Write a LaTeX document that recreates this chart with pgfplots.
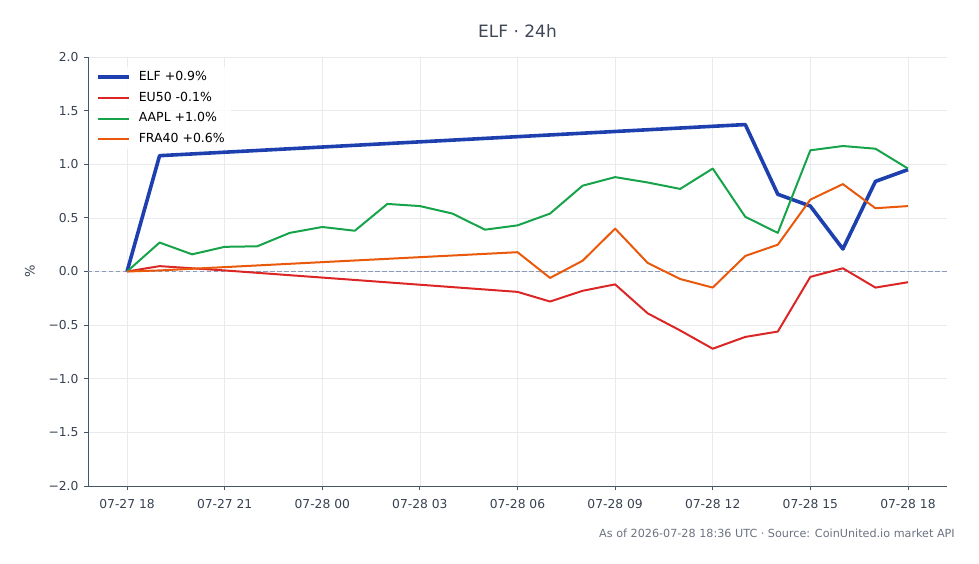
\documentclass[border=0pt]{standalone}
\usepackage{fontspec}
\setmainfont{DejaVu Sans}
\usepackage{pgfplots}
\pgfplotsset{compat=1.18}

\definecolor{elfblue}{HTML}{1E40AF}
\definecolor{eured}{HTML}{DC2626}
\definecolor{aaplgreen}{HTML}{16A34A}
\definecolor{fraorange}{HTML}{EA580C}
\definecolor{axisgray}{HTML}{475569}
\definecolor{tickgray}{HTML}{374151}
\definecolor{titlegray}{HTML}{3F4756}
\definecolor{gridgray}{HTML}{E8EAEE}
\definecolor{zerogray}{HTML}{8C9BB8}
\definecolor{notegray}{HTML}{6B7280}

% hours since 07-27 18:00 UTC, change in percent
\pgfplotstableread{
h v
0 0
1 1.08
19 1.37
20 0.72
21 0.61
22 0.21
23 0.84
24 0.95
}\elf
\pgfplotstableread{
h v
0 0
1 0.05
2 0.03
3 0.01
12 -0.19
13 -0.28
14 -0.18
15 -0.12
16 -0.39
17 -0.55
18 -0.72
19 -0.61
20 -0.56
21 -0.05
22 0.03
23 -0.15
24 -0.10
}\eufifty
\pgfplotstableread{
h v
0 0
1 0.27
2 0.16
3 0.23
4 0.235
5 0.36
6 0.415
7 0.38
8 0.63
9 0.61
10 0.54
11 0.39
12 0.43
13 0.54
14 0.80
15 0.88
16 0.83
17 0.77
18 0.96
19 0.51
20 0.36
21 1.13
22 1.17
23 1.145
24 0.96
}\aapl
\pgfplotstableread{
h v
0 0
1 0.01
12 0.18
13 -0.06
14 0.10
15 0.40
16 0.08
17 -0.07
18 -0.15
19 0.145
20 0.25
21 0.67
22 0.815
23 0.59
24 0.61
}\fraforty

\begin{document}
\begin{tikzpicture}
\useasboundingbox (-88bp,-78bp) rectangle (891bp,486bp);
\begin{axis}[
  at={(0,0)}, anchor=south west,
  scale only axis,
  width=859bp, height=429bp,
  xmin=-1.2, xmax=25.2,
  ymin=-2, ymax=2,
  axis x line*=bottom, axis y line*=left,
  axis line style={axisgray, line width=0.9bp},
  tick align=outside,
  major tick length=4bp,
  tick style={axisgray, line width=0.8bp},
  xtick={0,3,...,24},
  xticklabels={07-27 18,07-27 21,07-28 00,07-28 03,07-28 06,07-28 09,07-28 12,07-28 15,07-28 18},
  ytick={-2,-1.5,-1,-0.5,0,0.5,1,1.5,2},
  yticklabels={−2.0,−1.5,−1.0,−0.5,0.0,0.5,1.0,1.5,2.0},
  ticklabel style={font=\fontsize{12.3bp}{14bp}\selectfont, text=tickgray},
  xticklabel style={yshift=-6bp},
  yticklabel style={xshift=-2bp},
  grid=major,
  major grid style={gridgray, line width=0.6bp},
  ylabel={\%},
  ylabel style={at={(axis description cs:-0.0675,0.5)}, anchor=center,
    font=\fontsize{13bp}{15bp}\selectfont, text=tickgray},
  legend style={draw=none, fill=white, fill opacity=0.85, text opacity=1,
    at={(axis description cs:0.0023,0.976)},
    anchor=north west, font=\fontsize{12.5bp}{14bp}\selectfont,
    text=black, row sep=9.2bp, inner xsep=6bp, inner ysep=4bp,
    nodes={inner sep=0pt, text height=9bp, text depth=2.5bp},
    /tikz/every odd column/.append style={column sep=8bp}},
  legend cell align=left,
  legend image code/.code={\draw[#1] (0bp,0bp) -- (31bp,0bp);},
]
\addplot[zerogray, line width=0.9bp, dash pattern=on 4.5bp off 2.5bp, forget plot]
  coordinates {(-1.2,0) (25.2,0)};
\addplot[elfblue, line width=3.6bp, line join=round] table[x=h,y=v] {\elf};
\addlegendentry{ELF +0.9\%}
\addplot[eured, line width=2bp, line join=round] table[x=h,y=v] {\eufifty};
\addlegendentry{EU50 -0.1\%}
\addplot[aaplgreen, line width=2bp, line join=round] table[x=h,y=v] {\aapl};
\addlegendentry{AAPL +1.0\%}
\addplot[fraorange, line width=2bp, line join=round] table[x=h,y=v] {\fraforty};
\addlegendentry{FRA40 +0.6\%}
\end{axis}
\node[text=titlegray, font=\fontsize{17bp}{20bp}\selectfont] at (429.5bp,455bp) {ELF · 24h};
\node[anchor=east, text=notegray, font=\fontsize{11.2bp}{13bp}\selectfont, inner sep=0pt] at (867bp,-47bp)
  {As of 2026-07-28 18:36 UTC · Source: CoinUnited.io market API};
\end{tikzpicture}
\end{document}
